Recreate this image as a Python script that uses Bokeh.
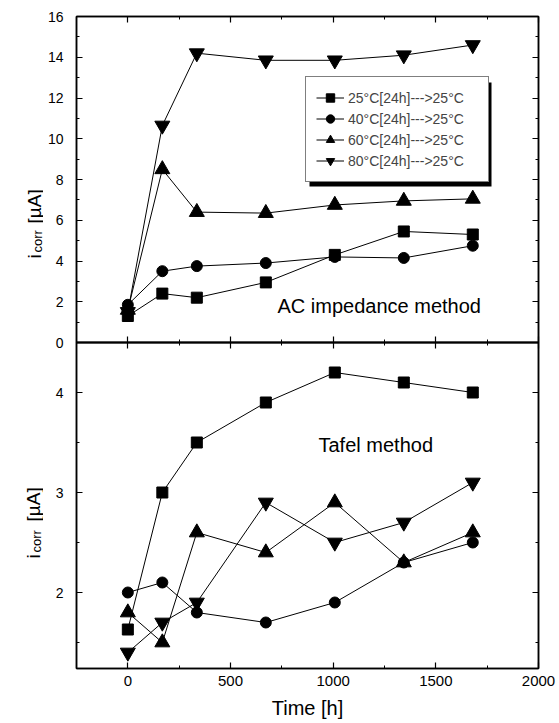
import math
from bokeh.plotting import figure
from bokeh.layouts import column, row
from bokeh.models import (Range1d, LinearAxis, SingleIntervalTicker, Label,
                          Legend, LegendItem, BoxAnnotation)
from bokeh.embed import file_html
from bokeh.resources import INLINE

# ---------------- data ----------------
times = [0, 168, 336, 672, 1008, 1344, 1680]
series_labels = ["25°C[24h]--->25°C", "40°C[24h]--->25°C",
                 "60°C[24h]--->25°C", "80°C[24h]--->25°C"]

# AC impedance method (top panel), i_corr [uA]
ac_25 = [1.3, 2.4, 2.2, 2.95, 4.3, 5.45, 5.3]
ac_40 = [1.85, 3.5, 3.75, 3.9, 4.2, 4.15, 4.75]
ac_60 = [1.6, 8.5, 6.4, 6.35, 6.75, 6.95, 7.05]
ac_80 = [1.5, 10.65, 14.2, 13.85, 13.85, 14.1, 14.6]

# Tafel method (bottom panel), i_corr [uA]
tf_25 = [1.63, 3.0, 3.5, 3.9, 4.2, 4.1, 4.0]
tf_40 = [2.0, 2.1, 1.8, 1.7, 1.9, 2.3, 2.5]
tf_60 = [1.8, 1.5, 2.6, 2.4, 2.9, 2.3, 2.6]
tf_80 = [1.4, 1.7, 1.9, 2.9, 2.5, 2.7, 3.1]

markers = ["square", "circle", "triangle", "inverted_triangle"]
msizes = [11, 11, 15, 15]

FONT = "Liberation Sans"
XR = (-250, 2000)
FW, FH = 462, 326
LABW = 43          # width of the strip holding the rotated y labels
FRAME_LEFT = 76    # canvas x of the plot frames


def style_axis(ax, interval, show_labels, font_size="14px", standoff=8):
    ax.ticker = SingleIntervalTicker(interval=interval, num_minor_ticks=2)
    ax.axis_line_color = "black"
    ax.axis_line_width = 1.5
    ax.major_tick_in = 6
    ax.major_tick_out = 0
    ax.minor_tick_in = 3
    ax.minor_tick_out = 0
    ax.major_tick_line_color = "black"
    ax.major_tick_line_width = 1.2
    ax.minor_tick_line_color = "black"
    ax.minor_tick_line_width = 1.0
    if show_labels:
        ax.major_label_text_font = FONT
        ax.major_label_text_font_size = font_size
        ax.major_label_text_color = "black"
        ax.major_label_standoff = standoff
    else:
        ax.major_label_text_font_size = "1px"
        ax.major_label_text_color = None
        ax.major_label_standoff = 0


def make_fig(yr, yint, top_border, bottom_border, show_x):
    p = figure(frame_width=FW, frame_height=FH, x_range=Range1d(*XR),
               y_range=Range1d(*yr), output_backend="svg", toolbar_location=None,
               min_border_left=FRAME_LEFT - LABW, min_border_right=21,
               min_border_top=top_border, min_border_bottom=bottom_border)
    p.grid.visible = False
    p.outline_line_color = "black"
    p.outline_line_width = 1.5
    p.border_fill_color = None
    p.background_fill_color = None
    bottom_ax = p.below[0]
    left_ax = p.left[0]
    style_axis(bottom_ax, 500, show_x, "15px", 7)
    style_axis(left_ax, yint, True, "14px", 13)
    ax_top = LinearAxis()
    style_axis(ax_top, 500, False)
    p.add_layout(ax_top, "above")
    ax_right = LinearAxis()
    style_axis(ax_right, yint, False)
    p.add_layout(ax_right, "right")
    return p, bottom_ax


def xd(px):
    return XR[0] + (px - FRAME_LEFT) * (XR[1] - XR[0]) / FW


# ---------------- top panel ----------------
p1, _ = make_fig((0, 16), 2, 16, 10, False)
ac = [ac_25, ac_40, ac_60, ac_80]
items = []
for vals, mk, ms, lab in zip(ac, markers, msizes, series_labels):
    lr = p1.line(times, vals, line_color="black", line_width=1)
    sr = p1.scatter(times, vals, marker=mk, size=ms, fill_color="black", line_color="black")
    items.append(LegendItem(label=lab, renderers=[lr, sr]))


def yd1(py):
    return (342 - py) * 16 / FH


shadow = BoxAnnotation(left=xd(309), right=xd(491), top=yd1(82), bottom=yd1(186),
                       fill_color="black", fill_alpha=1.0, line_color=None)
p1.add_layout(shadow)
legend = Legend(items=items, location=(229, 160), border_line_color="black",
                border_line_width=1.5, background_fill_color="white",
                background_fill_alpha=1.0, label_text_font=FONT,
                label_text_font_size="14px", glyph_width=28, glyph_height=21,
                label_height=21, label_width=130, spacing=0, padding=10,
                margin=0, label_standoff=4)
p1.add_layout(legend)

p1.add_layout(Label(x=xd(277), y=yd1(316), text="AC impedance method",
                    text_font=FONT, text_font_size="20px", text_color="black"))

# ---------------- bottom panel ----------------
YB = (1.24, 4.5)
p2, bax = make_fig(YB, 1, 2, 55, True)
bax.axis_label = "Time [h]"
bax.axis_label_text_font = FONT
bax.axis_label_text_font_size = "20px"
bax.axis_label_text_font_style = "normal"
bax.axis_label_text_color = "black"
bax.axis_label_standoff = 8
p2.margin = (-12, 0, 0, 0)

tf = [tf_25, tf_40, tf_60, tf_80]
for vals, mk, ms in zip(tf, markers, msizes):
    p2.line(times, vals, line_color="black", line_width=1)
    p2.scatter(times, vals, marker=mk, size=ms, fill_color="black", line_color="black")


def yd2(py):
    return YB[1] - (py - 342) * (YB[1] - YB[0]) / FH


p2.add_layout(Label(x=xd(318), y=yd2(455), text="Tafel method",
                    text_font=FONT, text_font_size="20px", text_color="black"))

# ---------------- strip with rotated y-axis titles ----------------
lab = figure(frame_width=LABW, frame_height=723, x_range=Range1d(0, LABW),
             y_range=Range1d(723, 0), output_backend="svg", toolbar_location=None,
             x_axis_type=None, y_axis_type=None, min_border=0)
lab.grid.visible = False
lab.outline_line_color = None
lab.border_fill_color = None
lab.background_fill_color = None

ylab_parts = [  # (text, baseline x, start y, font size)
    ("i", 34, 258, "19px"), ("corr", 36.5, 252, "13px"), ("[µA]", 34, 223, "19px"),
    ("i", 33, 558, "19px"), ("corr", 35.5, 552, "13px"), ("[µA]", 33, 521, "19px"),
]
for txt, bx, sy, fs in ylab_parts:
    lab.add_layout(Label(x=bx, y=sy, text=txt, angle=math.pi / 2,
                         text_baseline="alphabetic", text_align="left",
                         text_font=FONT, text_font_size=fs, text_color="black"))

layout = row(lab, column(p1, p2, spacing=0), spacing=0)
open("out.html", "w").write(file_html(layout, INLINE))
